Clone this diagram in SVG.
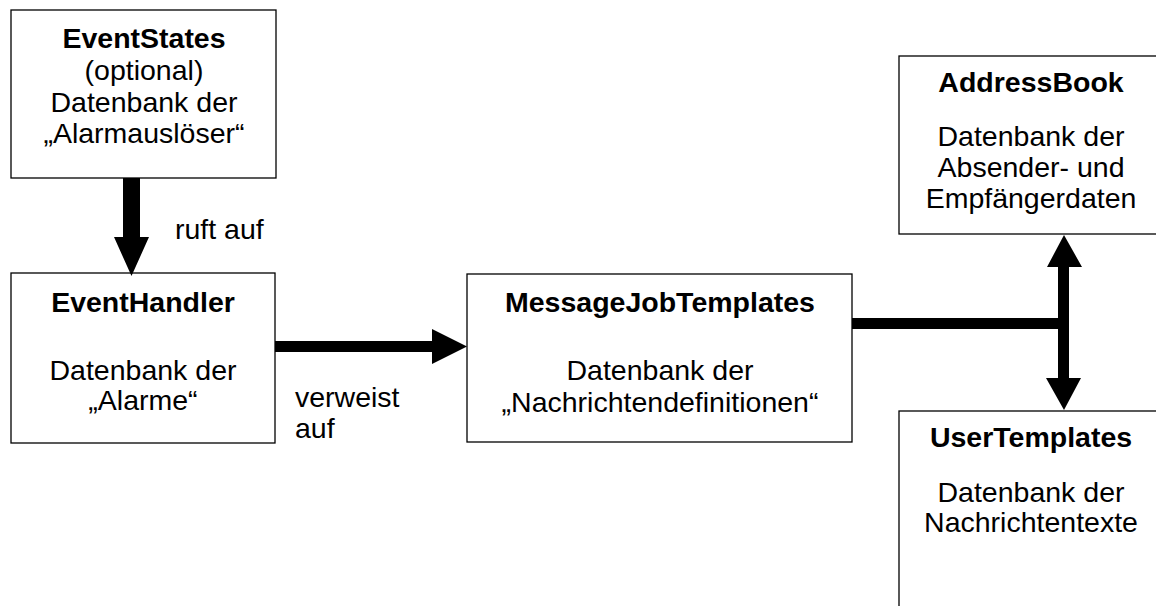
<svg xmlns="http://www.w3.org/2000/svg" width="1156" height="606" viewBox="0 0 1156 606">
<style>
.box{fill:#fff;stroke:#000;stroke-width:1.3}
text{font-family:"Liberation Sans",Arial,sans-serif;font-size:28.5px;fill:#000}
.c{text-anchor:middle}
.b{font-weight:bold}
.arr{fill:#000;stroke:none}
</style>
<rect width="1156" height="606" fill="#fff"/>
<g id="EventStates">
<rect class="box" x="11" y="10" width="265" height="168"/>
<text class="c b" x="144" y="48">EventStates</text>
<text class="c" x="144" y="80">(optional)</text>
<text class="c" x="144" y="112">Datenbank der</text>
<text class="c" x="144" y="143">„Alarmauslöser“</text>
</g>
<g id="EventHandler">
<rect class="box" x="11" y="273" width="264" height="170"/>
<text class="c b" x="143" y="312">EventHandler</text>
<text class="c" x="143" y="380">Datenbank der</text>
<text class="c" x="143" y="410">„Alarme“</text>
</g>
<g id="MessageJobTemplates">
<rect class="box" x="467" y="274" width="385" height="168"/>
<text class="c b" x="660" y="312">MessageJobTemplates</text>
<text class="c" x="660" y="380">Datenbank der</text>
<text class="c" x="660" y="412">„Nachrichtendefinitionen“</text>
</g>
<g id="AddressBook">
<rect class="box" x="899" y="56" width="265" height="178"/>
<text class="c b" x="1031" y="92">AddressBook</text>
<text class="c" x="1031" y="146">Datenbank der</text>
<text class="c" x="1031" y="177">Absender- und</text>
<text class="c" x="1031" y="208">Empfängerdaten</text>
</g>
<g id="UserTemplates">
<rect class="box" x="899" y="411" width="265" height="210"/>
<text class="c b" x="1031" y="447">UserTemplates</text>
<text class="c" x="1031" y="502">Datenbank der</text>
<text class="c" x="1031" y="532">Nachrichtentexte</text>
</g>
<g id="connectors">
<polygon class="arr" points="123,178 140,178 140,237 149,237 131.5,276 114,237 123,237"/>
<text x="175" y="239">ruft auf</text>
<polygon class="arr" points="275,341 432,341 432,329 467,346.5 432,364 432,352 275,352"/>
<text x="295" y="407">verweist</text>
<text x="295" y="438">auf</text>
<rect class="arr" x="852" y="318" width="217" height="11"/>
<polygon class="arr" points="1058,329 1058,267 1047,267 1064,235 1082,267 1069,267 1069,329"/>
<polygon class="arr" points="1058,318 1069,318 1069,378 1081,378 1064,410 1046,378 1058,378"/>
</g>
</svg>
